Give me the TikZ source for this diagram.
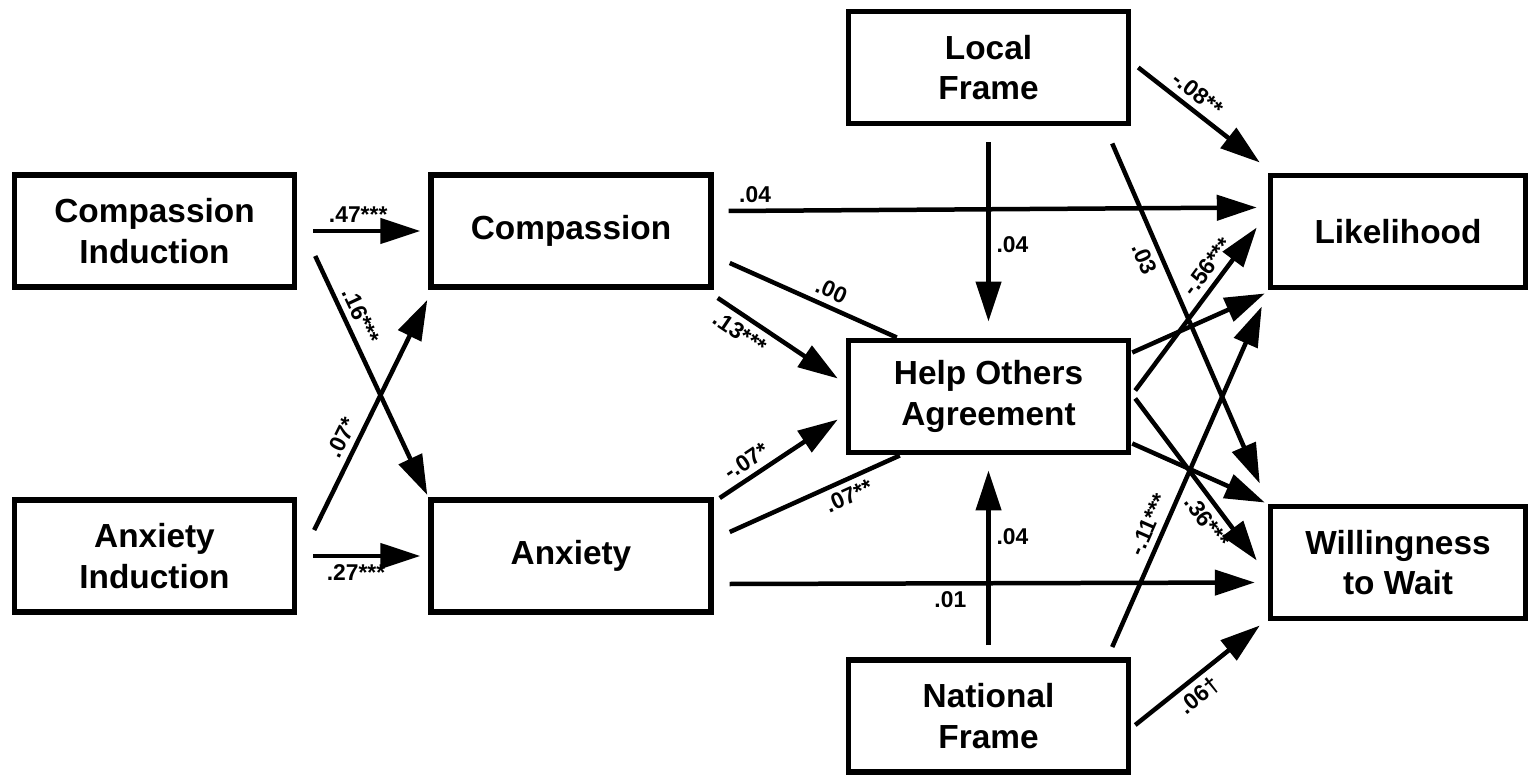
\documentclass[tikz,border=0pt]{standalone}
\usepackage{fontspec}
\setmainfont{Liberation Sans}
\usetikzlibrary{arrows.meta,calc}
\newcommand\boxfont{\fontsize{19}{23}\selectfont\bfseries}
\newcommand\coeffont{\fontsize{13}{15}\selectfont\bfseries}
\tikzset{
  var/.style={draw, line width=0.11cm, minimum width=5.6cm, minimum height=2.25cm,
    align=center, font=\boxfont, inner sep=0pt},
  outvar/.style={var, minimum width=5.1cm},
  link/.style={line width=0.09cm},
  effect/.style={link, -{Triangle[length=0.8cm,width=0.5cm]}},
  coef/.style={font=\coeffont}
}
\begin{document}
\begin{tikzpicture}[x=0.02cm,y=-0.02cm]
\useasboundingbox (0,0) rectangle (1530,776);
\node[var] (ci) at (154.5,231) {Compassion\\Induction};
\node[var] (ai) at (154.5,556) {Anxiety\\Induction};
\node[var] (comp) at (571,231) {Compassion};
\node[var] (anx) at (571,556) {Anxiety};
\node[var] (loc) at (988.5,67.5) {Local\\Frame};
\node[var] (help) at (988.5,396.5) {Help Others\\Agreement};
\node[var] (nat) at (988.5,716) {National\\Frame};
\node[outvar] (lik) at (1398,231.5) {Likelihood};
\node[outvar] (wil) at (1398,562.5) {Willingness\\to Wait};
\draw[effect] ($(ci.east)+(16,0)$) -- node[coef,above,pos=0.42] {.47***} ($(comp.west)+(-8,0)$);
\draw[effect] ($(ci.east)+(18,25)$) -- node[coef,above,sloped,pos=0.28] {.16***} ($(anx.north west)+(-1,-2)$);
\draw[effect] ($(ai.east)+(17,-26)$) -- node[coef,above,sloped,pos=0.37] {.07*} ($(comp.south west)+(-1,10)$);
\draw[effect] ($(ai.east)+(16,0)$) -- node[coef,below,pos=0.4] {.27***} ($(anx.west)+(-8,0)$);
\draw[effect] ($(comp.east)+(15,-20)$) -- node[coef,above,sloped,pos=0.05] {.04} ($(lik.west)+(-11,-24)$);
\draw[effect] ($(comp.south east)+(4,8)$) -- node[coef,below,sloped,pos=0.26] {.13***} ($(help.west)+(-8,-18)$);
\draw[link] ($(comp.east)+(16,32)$) -- node[coef,above,sloped,pos=0.57] {.00} ($(help.north west)+(51,0)$);
\draw[effect] ($(anx.north east)+(6,1)$) -- node[coef,above,sloped,pos=0.3] {-.07*} ($(help.west)+(-8,23)$);
\draw[link] ($(anx.east)+(16,-24)$) -- node[coef,below,sloped,pos=0.66] {.07**} ($(help.south west)+(54,0)$);
\draw[effect] ($(anx.east)+(16,28)$) -- node[coef,below,sloped,pos=0.42] {.01} ($(wil.west)+(-13,20)$);
\draw[effect] ($(loc.south)+(0,16)$) -- node[coef,right,pos=0.57] {.04} ($(help.north)+(0,-16)$);
\draw[effect] ($(nat.north)+(0,-12)$) -- node[coef,right,pos=0.62] {.04} ($(help.south)+(0,15)$);
\draw[effect] ($(loc.east)+(7,0)$) -- node[coef,above,sloped,pos=0.41] {-.08**} ($(lik.north west)+(-8,-10)$);
\draw[effect] ($(loc.south east)+(-19,17)$) -- node[coef,below,sloped,pos=0.32] {.03} ($(wil.north west)+(-8,-20)$);
\draw[effect] ($(help.north east)+(1,15)$) -- ($(lik.south west)+(-3,3)$);
\draw[effect] ($(help.east)+(4,-6)$) -- node[coef,above,sloped,pos=0.7] {-.56***} ($(lik.west)+(-11,-4)$);
\draw[effect] ($(help.south east)+(1,-12)$) -- ($(wil.north west)+(-3,-1)$);
\draw[effect] ($(help.east)+(4,2)$) -- node[coef,below,sloped,pos=0.7] {.36***} ($(wil.west)+(-11,-2)$);
\draw[effect] ($(nat.north east)+(-19,-10)$) -- node[coef,above,sloped,pos=0.34] {-.11***} ($(lik.south west)+(-6,16)$);
\draw[effect] ($(nat.east)+(4,9)$) -- node[coef,below,sloped,pos=0.43] {.06†} ($(wil.south west)+(-8,4)$);
\end{tikzpicture}
\end{document}
